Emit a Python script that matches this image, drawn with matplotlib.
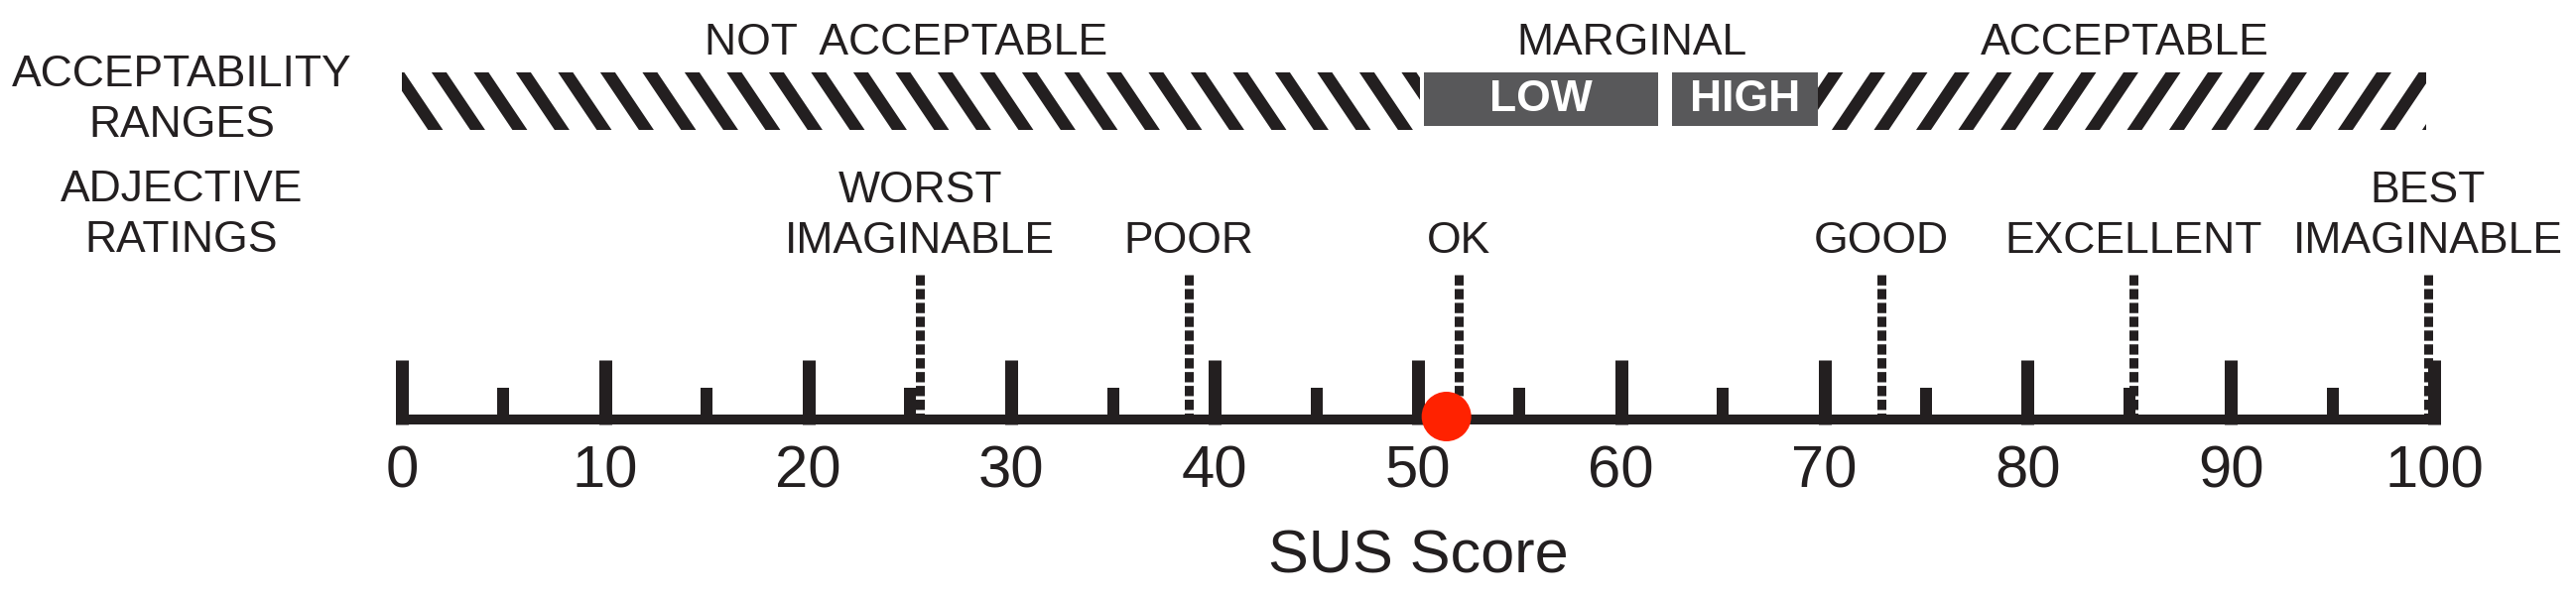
import numpy as np
import matplotlib.pyplot as plt
from matplotlib.patches import Rectangle, Polygon

plt.rcParams['font.family'] = ['Liberation Sans', 'DejaVu Sans']

# SUS scale
major_ticks = [0, 10, 20, 30, 40, 50, 60, 70, 80, 90, 100]
minor_ticks = [5, 15, 25, 35, 45, 55, 65, 75, 85, 95]
score = 51.4

# acceptability ranges
range_names = ['NOT  ACCEPTABLE', 'MARGINAL', 'ACCEPTABLE']
range_centers = [24.8, 60.5, 84.8]
not_acceptable_span = (0, 50.1)
acceptable_span = (69.7, 99.6)
marginal_names = ['LOW', 'HIGH']
marginal_spans = [(50.3, 61.8), (62.5, 69.7)]

# adjective ratings
adjectives = ['WORST\nIMAGINABLE', 'POOR', 'OK', 'GOOD', 'EXCELLENT', 'BEST\nIMAGINABLE']
adjective_scores = [25.5, 38.7, 52.0, 72.8, 85.2, 99.7]

W, H = 2596, 605
X0, PXU = 405, 20.48   # pixel of score 0, pixels per score point
ink = '#231f20'
box_gray = '#58585a'
px = 0.72  # one pixel in points at dpi 100


def to_x(p):
    return (p - X0) / PXU


fig = plt.figure(figsize=(W / 100, H / 100), dpi=100)
ax = fig.add_axes([0, 0, 1, 1])
ax.set_xlim(to_x(0), to_x(W))
ax.set_ylim(H, 0)
ax.axis('off')

# hatched band
band_top, band_bot = 73, 131
period, stripe_w, shift = 42.5 / PXU, 15 / PXU, 39 / PXU


def hatch(lo, hi, phase, direction):
    clip = Rectangle((lo, band_top), hi - lo, band_bot - band_top,
                     facecolor='none', edgecolor='none')
    ax.add_patch(clip)
    starts = np.arange(phase - 3 * period, hi + period, period)
    for s in starts:
        if direction == 'back':
            pts = [(s, band_top), (s + stripe_w, band_top),
                   (s + stripe_w + shift, band_bot), (s + shift, band_bot)]
        else:
            pts = [(s, band_bot), (s + stripe_w, band_bot),
                   (s + stripe_w + shift, band_top), (s + shift, band_top)]
        p = Polygon(pts, closed=True, facecolor=ink, edgecolor='none')
        ax.add_patch(p)
        p.set_clip_path(clip)


hatch(*not_acceptable_span, phase=1.46, direction='back')
hatch(*acceptable_span, phase=70.36, direction='fwd')

for name, (lo, hi) in zip(marginal_names, marginal_spans):
    ax.add_patch(Rectangle((lo, band_top), hi - lo, 127 - band_top,
                           facecolor=box_gray, edgecolor='none'))
    ax.text((lo + hi) / 2, 112, name, ha='center', va='baseline',
            fontsize=32, fontweight='bold', color='white')

for name, cx in zip(range_names, range_centers):
    ax.text(cx, 55, name, ha='center', va='baseline', fontsize=32, color=ink)

# row titles
for line, yb in zip(['ACCEPTABILITY', 'RANGES', 'ADJECTIVE', 'RATINGS'],
                    [87, 138, 203, 254]):
    ax.text(to_x(183), yb, line, ha='center', va='baseline', fontsize=32, color=ink)

# adjective labels and dashed markers
for label, s in zip(adjectives, adjective_scores):
    lines = label.split('\n')
    for i, line in enumerate(reversed(lines)):
        ax.text(s, 255 - 51 * i, line, ha='center', va='baseline',
                fontsize=32, color=ink)
    ax.plot([s, s], [277, 420], color=ink, lw=9 * px,
            linestyle=(0, (1.15, 0.4)), dash_capstyle='butt', zorder=3)

# scale line and ticks
ax.plot([0, 100], [423, 423], color=ink, lw=10 * px, solid_capstyle='butt', zorder=2)
ax.vlines(major_ticks, 363, 428, color=ink, lw=13 * px, zorder=2)
ax.vlines(minor_ticks, 391, 428, color=ink, lw=12 * px, zorder=2)

for t in major_ticks:
    ax.text(t, 492, str(t), ha='center', va='baseline', fontsize=43, color=ink)

ax.text(50, 577, 'SUS Score', ha='center', va='baseline', fontsize=44, color=ink)

ax.scatter([score], [420], s=(50 * px) ** 2, color='#ff2200', edgecolors='none', zorder=5)

fig.savefig('out.png', dpi=100)
